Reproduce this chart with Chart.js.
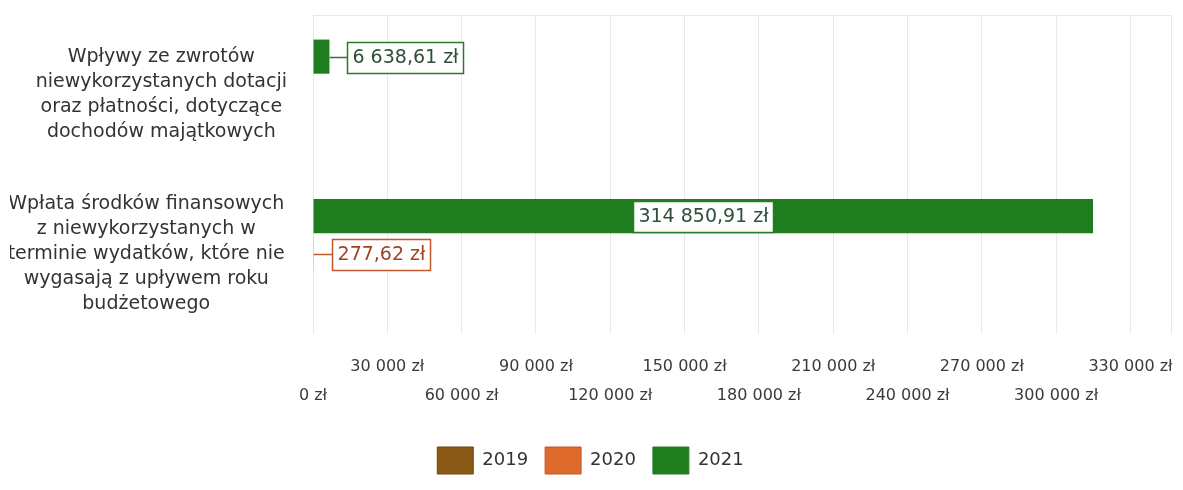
<!DOCTYPE html>
<html><head><meta charset="utf-8">
<script src="https://cdn.jsdelivr.net/npm/chart.js@4/dist/chart.umd.min.js"></script>
<style>html,body{margin:0;padding:0;background:#fff}#wrap{width:1183px;height:490px;position:relative}</style>
</head><body><div id="wrap"><canvas id="c"></canvas></div>
<script>
const categories = [
  ["     Wpływy ze zwrotów", "     niewykorzystanych dotacji", "     oraz płatności, dotyczące", "     dochodów majątkowych"],
  ["Wpłata środków finansowych", "z niewykorzystanych w", "terminie wydatków, które nie", "wygasają z upływem roku", "budżetowego"]
];
const seriesNames = ["2019", "2020", "2021"];
const values2019 = [null, null];
const values2020 = [null, 277.62];
const values2021 = [6638.61, 314850.91];
const tickValues = [0, 30000, 60000, 90000, 120000, 150000, 180000, 210000, 240000, 270000, 300000, 330000];
const axisMax = 346336;

const FONT = '"DejaVu Sans", Verdana, sans-serif';
const fmtMoney = (v, dec) => {
  const s = v.toFixed(dec).split('.');
  const i = s[0].replace(/\B(?=(\d{3})+(?!\d))/g, ' ');
  return (dec ? i + ',' + s[1] : i) + ' zł';
};

const styles = {
  "2019": {bg: '#8a5a16', border: '#6e4510', text: '#7a4d12'},
  "2020": {bg: '#dd6a2a', border: '#c0582a', text: '#9e4226'},
  "2021": {bg: '#1f7d1f', border: '#2a7a2a', text: '#2e4d3a'}
};

const valueLabels = {
  id: 'valueLabels',
  afterDatasetsDraw(chart) {
    const ctx = chart.ctx;
    ctx.save();
    ctx.font = '19px ' + FONT;
    chart.data.datasets.forEach((ds, di) => {
      const meta = chart.getDatasetMeta(di);
      if (!chart.isDatasetVisible(di)) return;
      const st = styles[ds.label];
      meta.data.forEach((bar, i) => {
        const v = ds.data[i];
        if (v == null) return;
        const text = fmtMoney(v, 2);
        const tw = ctx.measureText(text).width;
        const bw = Math.round(tw + 10), bh = 31;
        const left = Math.min(bar.base, bar.x), right = Math.max(bar.base, bar.x);
        const cy = Math.round(bar.y);
        let bx;
        ctx.strokeStyle = st.border;
        ctx.lineWidth = 1.5;
        if (right - left > bw + 20) {
          bx = Math.round((left + right) / 2 - bw / 2);
        } else {
          bx = Math.round(right + 18);
          ctx.beginPath();
          ctx.moveTo(right, cy + 0.5);
          ctx.lineTo(bx, cy + 0.5);
          ctx.stroke();
        }
        const by = Math.round(cy - bh / 2);
        ctx.fillStyle = '#ffffff';
        ctx.fillRect(bx, by, bw, bh);
        ctx.strokeRect(bx + 0.5, by + 0.5, bw, bh);
        ctx.fillStyle = st.text;
        ctx.textAlign = 'center';
        ctx.textBaseline = 'middle';
        ctx.fillText(text, bx + bw / 2 + 0.5, cy + 1);
      });
    });
    ctx.restore();
  }
};

const frame = {
  id: 'frame',
  beforeDatasetsDraw(chart) {
    const {ctx, chartArea: a} = chart;
    ctx.save();
    ctx.strokeStyle = '#e4e8e8';
    ctx.lineWidth = 1;
    ctx.beginPath();
    ctx.moveTo(a.left, a.top + 0.5);
    ctx.lineTo(a.right + 0.5, a.top + 0.5);
    ctx.lineTo(a.right + 0.5, a.bottom);
    ctx.stroke();
    ctx.restore();
  }
};

const order = ["2021", "2020", "2019"];
const valuesByYear = {"2019": values2019, "2020": values2020, "2021": values2021};

new Chart(document.getElementById('c'), {
  type: 'bar',
  data: {
    labels: categories,
    datasets: order.map(y => ({
      label: y,
      data: valuesByYear[y],
      backgroundColor: styles[y].bg,
      borderColor: styles[y].border,
      borderWidth: 0,
      categoryPercentage: 0.717,
      barPercentage: 0.895
    }))
  },
  options: {
    indexAxis: 'y',
    responsive: true,
    maintainAspectRatio: false,
    animation: false,
    layout: {padding: {left: 10, right: 12, top: 15, bottom: 6}},
    plugins: {
      legend: {
        position: 'bottom',
        reverse: true,
        labels: {
          boxWidth: 36, boxHeight: 27, padding: 17,
          color: '#333333',
          font: {family: FONT, size: 18},
          generateLabels(chart) {
            return chart.data.datasets.map((ds, i) => ({
              text: ds.label,
              fillStyle: styles[ds.label].bg,
              strokeStyle: styles[ds.label].border,
              lineWidth: 1,
              hidden: !chart.isDatasetVisible(i),
              datasetIndex: i,
              fontColor: '#333333'
            }));
          }
        }
      },
      tooltip: {enabled: false}
    },
    scales: {
      x: {
        type: 'linear',
        min: 0,
        max: axisMax,
        afterBuildTicks: s => { s.ticks = tickValues.map(v => ({value: v})); },
        afterFit: s => { s.height = 96; s.paddingLeft = 0; s.paddingRight = 0; },
        grid: {color: '#e6eaea', lineWidth: 1, drawTicks: false},
        border: {display: false},
        ticks: {
          autoSkip: false, maxRotation: 0, minRotation: 0,
          padding: 18,
          color: '#3a3a3a',
          font: {family: FONT, size: 16, lineHeight: 1.81},
          callback: (v, i) => (i % 2 === 0 ? ['', fmtMoney(v, 0)] : [fmtMoney(v, 0)])
        }
      },
      y: {
        type: 'category',
        afterFit: s => { s.width = 303; s.paddingTop = 0; s.paddingBottom = 0; },
        grid: {display: false, drawTicks: false},
        border: {display: false},
        ticks: {
          crossAlign: 'center',
          padding: 26,
          color: '#333333',
          font: {family: FONT, size: 19, lineHeight: 1.316}
        }
      }
    }
  },
  plugins: [frame, valueLabels]
});
</script>
</body></html>
